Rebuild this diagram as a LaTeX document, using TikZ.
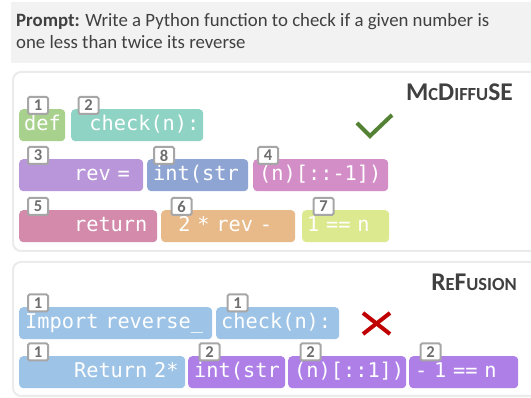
\documentclass[tikz,border=0pt]{standalone}
\usepackage{fontspec}
\setmainfont{Carlito}
\newfontfamily\monofam{DejaVu Sans Mono}
\definecolor{cgreen}{HTML}{A9D18E}
\definecolor{cteal}{HTML}{8ED3C3}
\definecolor{cpurple}{HTML}{B996D9}
\definecolor{cblue}{HTML}{8EA5D3}
\definecolor{cpink}{HTML}{D38EC7}
\definecolor{crose}{HTML}{D38AAB}
\definecolor{corange}{HTML}{E8BA8A}
\definecolor{cyellow}{HTML}{DDE98F}
\definecolor{rblue}{HTML}{9DC3E6}
\definecolor{rpurple}{HTML}{AF7FE8}
\definecolor{txtgray}{HTML}{404040}
\definecolor{labgray}{HTML}{A6A6A6}
\definecolor{labtxt}{HTML}{6E6E6E}
\definecolor{panelborder}{HTML}{EBEBEB}
\definecolor{promptfill}{HTML}{F2F2F2}
\definecolor{okgreen}{HTML}{548235}
\definecolor{badred}{HTML}{C00000}
\newlength\chw
\setlength\chw{12.22pt}
\newcommand{\lead}[1]{\hspace*{#1\chw}}
\newcommand{\scsz}[1]{{\fontsize{18.5}{19}\selectfont #1}}
\newcommand{\codefont}{\monofam\fontsize{20.3}{21}\selectfont}
\tikzset{
  codebox/.style={fill=#1, rounded corners=4pt, anchor=north west, minimum height=32pt,
    inner xsep=6pt, inner ysep=0pt, align=left, text height=15pt, text depth=4pt,
    font=\codefont, text=white},
  numlab/.style={draw=labgray, line width=2pt, fill=white, minimum width=20pt,
    minimum height=17pt, inner sep=0pt, rounded corners=1.5pt,
    font=\bfseries\fontsize{16.5}{16.5}\selectfont, text=labtxt},
  panel/.style={draw=panelborder, line width=2pt, rounded corners=8pt, fill=white},
  title/.style={anchor=base east, font=\bfseries\fontsize{25.5}{25.5}\selectfont, text=txtgray, inner sep=0pt},
  ptext/.style={anchor=base west, font=\fontsize{18.8}{20}\selectfont, text=txtgray, inner sep=0pt}
}
\begin{document}
\begin{tikzpicture}[x=1pt,y=-1pt]
\useasboundingbox (0,0) rectangle (531,398);
% prompt
\fill[promptfill] (11,2) rectangle (545,63);
\node[ptext] (p1) at (16,27) {\textbf{Prompt:} Write a Python function to check if a given number is};
\node[ptext] (p2) at (16,49) {one less than twice its reverse};
% panels
\draw[panel] (13,72) rectangle (545,251);
\draw[panel] (13,262) rectangle (545,396);
\node[title] (t1) at (513,101) {M\scsz{C}D\scsz{IFFU}SE};
\node[title] (t2) at (517,291) {R\scsz{E}F\scsz{USION}};
% McDiffuSE row 1
\node[codebox=cgreen, text width=36pt, inner xsep=5pt] (b1) at (19,109) {def};
\node[codebox=cteal, text width=120pt] (b2) at (71,109) {\lead{1}check(n):};
% row 2
\node[codebox=cpurple, text width=112pt] (b3) at (19,159) {\lead{4}rev =};
\node[codebox=cblue, text width=89pt] (b8) at (147,159) {int(str};
\node[codebox=cpink, text width=123pt] (b4) at (253,159) {(n)[::-1])};
% row 3
\node[codebox=crose, text width=126pt] (b5) at (19,210) {\lead{4}return};
\node[codebox=corange, text width=124pt, inner xsep=5pt] (b6) at (161,210) {\lead{1}2 * rev -};
\node[codebox=cyellow, text width=77pt, inner xsep=5pt] (b7) at (302,210) {1 == n};
% labels
\node[numlab] (n1) at (38,105.5) {1};
\node[numlab] (n2) at (88.5,105.5) {2};
\node[numlab] (n3) at (38,155.5) {3};
\node[numlab] (n8) at (164,155.5) {8};
\node[numlab] (n4) at (268,155.5) {4};
\node[numlab] (n5) at (38,206.5) {5};
\node[numlab] (n6) at (181.5,206.5) {6};
\node[numlab] (n7) at (323.5,206.5) {7};
% check mark
\draw[okgreen, line width=4pt] (357,123) -- (370,136) -- (392,115);
% ReFusion row 1
\node[codebox=rblue, text width=181pt] (r1) at (19,307) {Import reverse\_};
\node[codebox=rblue, text width=113pt, inner xsep=5pt] (r2) at (216,307) {check(n):};
% row 2
\node[codebox=rblue, text width=154pt] (r3) at (19,356) {\lead{4}Return 2*};
\node[codebox=rpurple, text width=85pt] (r4) at (188,356) {int(str};
\node[codebox=rpurple, text width=106pt] (r5) at (288,356) {(n)[::1])};
\node[codebox=rpurple, text width=97pt] (r6) at (409,356) {- 1 == n};
\node[numlab] (m1) at (38,303) {1};
\node[numlab] (m2) at (237.5,303) {1};
\node[numlab] (m3) at (38,352) {1};
\node[numlab] (m4) at (209.5,352) {2};
\node[numlab] (m5) at (310.5,352) {2};
\node[numlab] (m6) at (430.5,352) {2};
% red cross
\draw[badred, line width=4pt] (363,313) -- (390,334);
\draw[badred, line width=4pt] (390,313) -- (363,334);
\end{tikzpicture}
\end{document}
